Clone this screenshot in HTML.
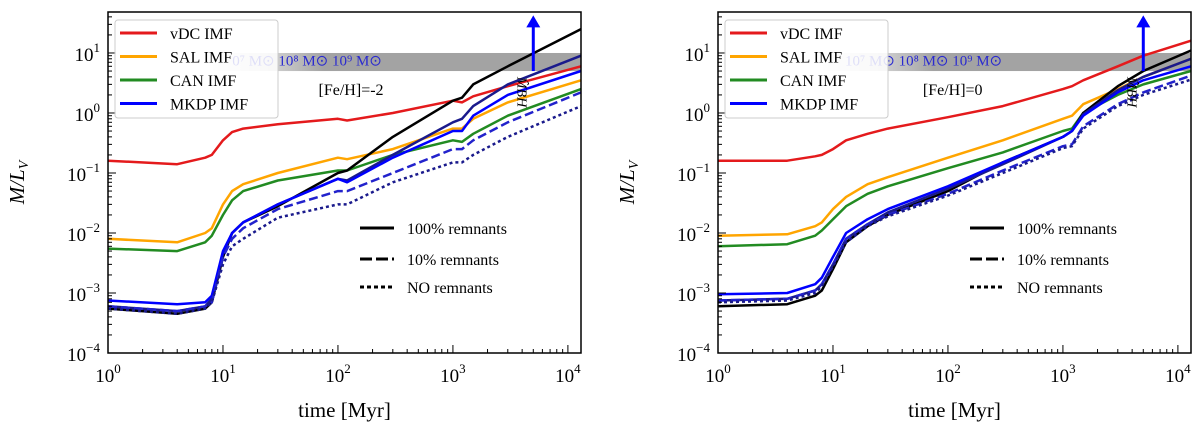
<!DOCTYPE html>
<html><head><meta charset="utf-8">
<style>
body{margin:0;background:#fff;}
svg{display:block;font-family:"Liberation Serif",serif;}
</style></head>
<body>
<svg id="chart" width="1200" height="432" viewBox="0 0 1200 432" xmlns="http://www.w3.org/2000/svg">
<defs>
<linearGradient id="bandL" x1="0" x2="1" y1="0" y2="0">
<stop offset="0" stop-color="#bbb" stop-opacity="0.15"/><stop offset="0.3" stop-color="#999" stop-opacity="0.9"/><stop offset="1" stop-color="#999" stop-opacity="0.9"/>
</linearGradient>
</defs>
</svg>
<script>
// ---- data (time in Myr, M/L_V) ----
const timesL = [1,4,7,8,10,12,15,30,100,120,300,1000,1200,1500,3000,13000];
const vdcL   = [0.16,0.14,0.18,0.2,0.35,0.48,0.55,0.65,0.8,0.75,1.0,1.6,1.5,1.9,2.8,6];
const salL   = [0.008,0.007,0.01,0.012,0.03,0.05,0.065,0.1,0.18,0.17,0.25,0.55,0.55,0.8,1.5,3.5];
const canL   = [0.0055,0.005,0.007,0.009,0.02,0.035,0.05,0.075,0.11,0.11,0.2,0.35,0.33,0.45,0.9,2.5];
const mkdpL  = [0.00075,0.00065,0.0007,0.0009,0.005,0.01,0.015,0.03,0.08,0.07,0.18,0.5,0.5,0.9,2,5];
const navyL  = [0.0006,0.0005,0.0006,0.0008,0.0045,0.01,0.015,0.03,0.08,0.075,0.2,0.7,0.8,1.3,3,9];
const blackL = [0.00055,0.00045,0.00055,0.0007,0.004,0.01,0.015,0.028,0.1,0.11,0.4,1.6,1.8,3,6,25];
const dashL  = [0.0006,0.0005,0.0006,0.0007,0.004,0.008,0.012,0.025,0.05,0.05,0.1,0.25,0.25,0.35,0.7,2.2];
const dotL   = [0.00055,0.00045,0.00055,0.0007,0.003,0.006,0.008,0.018,0.03,0.03,0.07,0.15,0.15,0.2,0.4,1.3];

const timesR = [1,4,7,8,10,13,20,30,100,300,1000,1200,1500,3000,5000,13000];
const vdcR   = [0.16,0.16,0.19,0.2,0.25,0.35,0.45,0.55,0.85,1.3,2.5,2.8,3.5,6,9,16];
const salR   = [0.009,0.0095,0.013,0.015,0.025,0.04,0.065,0.085,0.18,0.35,0.8,0.9,1.4,2.5,4,8];
const canR   = [0.006,0.0065,0.009,0.011,0.017,0.028,0.045,0.06,0.12,0.22,0.5,0.55,1.0,2,3,5];
const mkdpR  = [0.00095,0.001,0.0014,0.0018,0.004,0.01,0.017,0.025,0.06,0.15,0.4,0.5,0.9,2.2,3.5,6];
const navyR  = [0.00075,0.0008,0.0011,0.0014,0.003,0.008,0.014,0.022,0.055,0.14,0.4,0.5,0.95,2.4,4,8];
const blackR = [0.0006,0.00065,0.0009,0.0011,0.0025,0.007,0.013,0.02,0.05,0.15,0.4,0.5,1.0,2.8,5,11];
const dashR  = [0.00075,0.0008,0.0011,0.0014,0.003,0.008,0.014,0.02,0.045,0.11,0.28,0.3,0.6,1.4,2.2,4.2];
const dotR   = [0.0007,0.00075,0.001,0.0013,0.0028,0.007,0.013,0.019,0.042,0.1,0.26,0.28,0.55,1.3,2,3.6];

const xTickLabels = ["0","1","2","3","4"];
const yTickLabels = ["1","0","\u22121","\u22122","\u22123","\u22124"];
const legendNames = ["vDC IMF","SAL IMF","CAN IMF","MKDP IMF"];
const legendColors = ["#e41a1c","#ffa500","#228b22","#0000ff"];
const styleNames = ["100% remnants","10% remnants","NO remnants"];

const NS="http://www.w3.org/2000/svg";
const svgEl=document.getElementById('chart');
function mk(tag,attrs,parent){const e=document.createElementNS(NS,tag);for(const k in attrs)e.setAttribute(k,attrs[k]);(parent||svgEl).appendChild(e);return e;}

const plotTop=12, plotBot=353, yMin=-4, yMax=1.683;
const xMaxL=Math.log10(13000);

function panel(left,right,feh,bandText,d,idx){
  const g=mk('g',{});
  
  
  const xs=v=>left+(Math.log10(v))/4*(right-left-12*0+0)*(4/xMaxL);
  const ys=v=>plotBot-(Math.log10(v)-yMin)/(yMax-yMin)*(plotBot-plotTop);
  const band=mk('rect',{x:xs(10)-10,y:ys(10),width:right-xs(10)+10,height:ys(5)-ys(10),fill:'url(#bandL)'},g);
  
  
  const bt=mk('text',{x:xs(10)+(idx==1?8:12),y:ys(6.2),'font-size':15,fill:'#2a2ad0'},g);
  bt.textContent=bandText;
  
  
  const series=[
    [d.vdc,'#e41a1c',''],[d.sal,'#ffa500',''],[d.can,'#228b22',''],
    [d.black,'#000',''],[d.navy,'#1a1a8c',''],[d.mkdp,'#0000ff',''],
    [d.dash,'#2222cc','9,4'],[d.dot,'#1a1a8c','3,3']
  ];
  const names=['vdc','sal','can','black','navy','mkdp','dashed','dotted'];
  series.forEach((s,i)=>{
    const pts=d.t.map((t,j)=>xs(t).toFixed(1)+','+ys(s[0][j]).toFixed(1)).join(' ');
    const p=mk('polyline',{points:pts,fill:'none',stroke:s[1],'stroke-width':2.5,'stroke-linejoin':'round'},g);
    if(s[2])p.setAttribute('stroke-dasharray',s[2]);
    
    
  });
  const ax=xs(5000);
  mk('line',{x1:ax,y1:ys(5),x2:ax,y2:ys(30),stroke:'#0000ff','stroke-width':3},g);
  mk('polygon',{points:`${ax-7},${ys(30)+3} ${ax+7},${ys(30)+3} ${ax},${ys(30)-9}`,fill:'#0000ff'},g);
  const mb=mk('text',{transform:`translate(${ax-16},${ys(4)}) rotate(90)`,'font-size':14,'font-style':'italic'},g);
  mb.textContent='M\u0302BH';
  
  
  const ft=mk('text',{x:xs(idx==1?130:110),y:ys(2.0),'font-size':16,'text-anchor':'middle'},g);
  ft.textContent=feh;
  
  
  const fr=mk('rect',{x:left,y:plotTop,width:right-left,height:plotBot-plotTop,fill:'none',stroke:'#000','stroke-width':1.5},g);
  
  
  for(let dcd=0;dcd<=4;dcd++){
    for(let m=1;m<10;m++){
      const v=Math.pow(10,dcd)*m; if(Math.log10(v)>xMaxL) break;
      const x=xs(v); const L=m==1?8:4;
      mk('line',{x1:x,y1:plotBot,x2:x,y2:plotBot-L,stroke:'#000','stroke-width':1},g);
    }
    const t=mk('text',{x:xs(Math.pow(10,dcd)),y:plotBot+29,'font-size':19,'text-anchor':'middle'},g);
    t.innerHTML='10<tspan font-size="13" dy="-9">'+xTickLabels[dcd]+'</tspan>';
    
    
  }
  for(let dcd=-4;dcd<=1;dcd++){
    for(let m=1;m<10;m++){
      const v=Math.pow(10,dcd)*m; if(Math.log10(v)>yMax) break;
      const y=ys(v); const L=m==1?8:4;
      mk('line',{x1:left,y1:y,x2:left+L,y2:y,stroke:'#000','stroke-width':1},g);
    }
    const t=mk('text',{x:left-8,y:ys(Math.pow(10,dcd))+8,'font-size':19,'text-anchor':'end'},g);
    t.innerHTML='10<tspan font-size="13" dy="-9">'+yTickLabels[1-dcd]+'</tspan>';
    
    
  }
  const xt=mk('text',{x:(left+right)/2,y:plotBot+64,'font-size':21,'text-anchor':'middle'},g);
  xt.textContent='time [Myr]';
  
  
  const yt=mk('text',{transform:`translate(${left-84},${(plotTop+plotBot)/2}) rotate(-90)`,'font-size':21,'text-anchor':'middle','font-style':'italic'},g);
  yt.innerHTML='M/L<tspan font-size="14" dy="4">V</tspan>';
  
  
  const lg=mk('g',{},g);
  
  
  mk('rect',{x:left+7,y:20,width:163,height:98,rx:3,fill:'#fff','fill-opacity':0.85,stroke:'#ccc'},lg);
  legendNames.forEach((n,i)=>{
    const y=33+i*23.5;
    mk('line',{x1:left+12,y1:y,x2:left+49,y2:y,stroke:legendColors[i],'stroke-width':3},lg);
    const t=mk('text',{x:left+62,y:y+6,'font-size':16},lg);
    t.textContent=n;
    
    
  });
  const sl=mk('g',{},g);
  
  
  const dashes=['','12,4','4,3'];
  styleNames.forEach((n,i)=>{
    const y=[228,259,287][i];
    const lx=left+252;
    const l=mk('line',{x1:lx,y1:y,x2:lx+34,y2:y,stroke:'#000','stroke-width':3},sl);
    if(dashes[i]) l.setAttribute('stroke-dasharray',dashes[i]);
    const t=mk('text',{x:lx+47,y:y+6,'font-size':16},sl);
    t.textContent=n;
    
    
  });
}
panel(108,581,'[Fe/H]=-2','\u200A0\u2077 M\u2299  10\u2078 M\u2299  10\u2079 M\u2299',
  {t:timesL,vdc:vdcL,sal:salL,can:canL,mkdp:mkdpL,navy:navyL,black:blackL,dash:dashL,dot:dotL},1);
panel(718,1191,'[Fe/H]=0','10\u2077 M\u2299  10\u2078 M\u2299 10\u2079 M\u2299',
  {t:timesR,vdc:vdcR,sal:salR,can:canR,mkdp:mkdpR,navy:navyR,black:blackR,dash:dashR,dot:dotR},2);
</script>
</body></html>
